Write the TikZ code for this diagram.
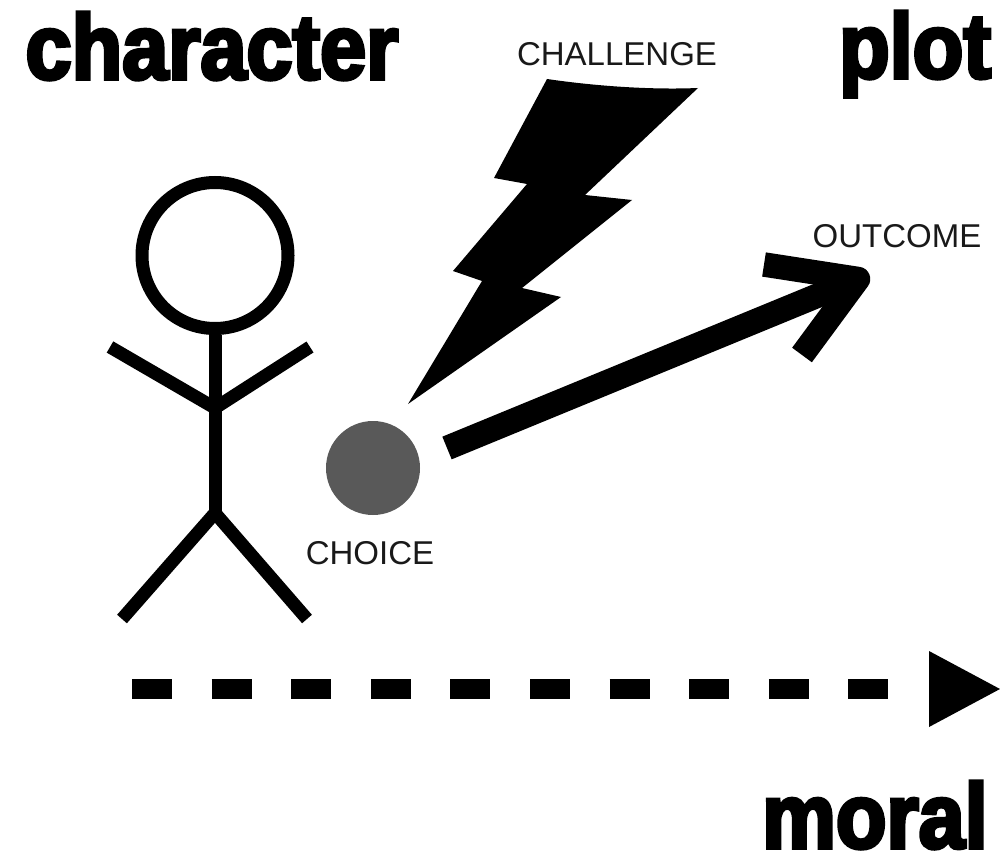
\documentclass[tikz,border=0pt]{standalone}
\usepackage{xcolor}
\usepackage{fontspec}
\setmainfont{Liberation Sans}
\newfontfamily\heavyfont[UprightFont=* Bold,FakeBold=4,FakeStretch=0.9]{Liberation Sans}
\begin{document}
\begin{tikzpicture}[x=1pt,y=-1pt]
    % Define styles
    \tikzset{
        title/.style={font=\fontsize{92}{92}\selectfont\heavyfont, inner sep=0pt, anchor=base, text=black},
        caption/.style={font=\fontsize{33}{33}\selectfont, inner sep=0pt, anchor=base, text=black!90},
        limb/.style={line width=13pt, black},
        thick arrow/.style={line width=24.5pt, black}
    }
    \useasboundingbox (0,0) rectangle (1000,853);

    % Titles
    \node[title] (character_label) at (212,79) {character};
    \node[title] (plot_label) at (915,78) {plot};
    \node[title] (moral_label) at (875,848) {moral};

    % Captions
    \node[caption] (challenge_label) at (617,66) {CHALLENGE};
    \node[caption] (outcome_label) at (897,247) {OUTCOME};
    \node[caption] (choice_label) at (370,564) {CHOICE};

    % Stick figure
    \node[circle, draw, line width=13pt, minimum size=146pt, inner sep=0pt] (head) at (215,255.5) {};
    \coordinate (hip) at (215,513);
    \coordinate (shoulder) at (215,408);
    \coordinate (hand_left) at (110,347);
    \coordinate (hand_right) at (310,347);
    \coordinate (foot_left) at (122,619);
    \coordinate (foot_right) at (307,619);
    \draw[limb] (head.south) -- (hip);
    \draw[limb] (hand_left) -- (shoulder) -- (hand_right);
    \draw[limb] (foot_left) -- (hip) -- (foot_right);

    % Lightning
    \fill[black] (547,79) .. controls (595,86) and (650,90) .. (698,88)
        -- (585,195) -- (632,200) -- (522,288) -- (561,297) -- (408,404)
        -- (482,281) -- (453,271) -- (527,184) -- (494,178) -- cycle;

    % Choice
    \node[circle, fill=black!65, minimum size=94pt, inner sep=0pt] (choice) at (373,468) {};

    % Outcome arrow
    \coordinate (arrow_start) at (447,448);
    \coordinate (arrow_tip) at (858,279);
    \coordinate (barb_top) at (764,264.5);
    \coordinate (barb_bottom) at (802,355);
    \draw[thick arrow] (arrow_start) -- (arrow_tip);
    \draw[thick arrow, line join=round] (barb_top) -- (arrow_tip) -- (barb_bottom);

    % Moral arrow
    \coordinate (moral_start) at (132,689);
    \coordinate (moral_end) at (888,689);
    \draw[line width=20pt, dash pattern=on 40pt off 39.6pt] (moral_start) -- (moral_end);
    \fill[black] (929,651) -- (1000,689) -- (929,727) -- cycle;
\end{tikzpicture}
\end{document}
